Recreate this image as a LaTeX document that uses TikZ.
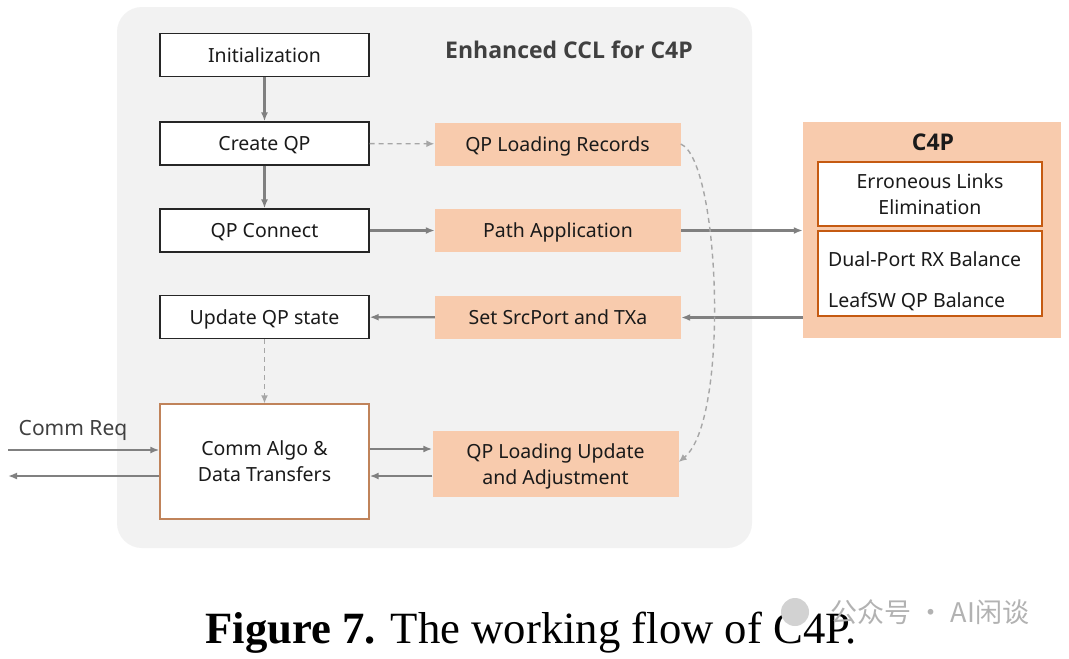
\documentclass[tikz,border=0pt]{standalone}
\usepackage{fontspec}
\setmainfont{Noto Sans}
\newfontfamily\titlefont{Open Sans}
\newfontfamily\capfont{Liberation Serif}
\newfontfamily\cjkfont{Noto Sans CJK SC}
\usetikzlibrary{arrows.meta}
\definecolor{panel}{HTML}{F2F2F2}
\definecolor{peach}{HTML}{F8CBAD}
\definecolor{rust}{HTML}{C55A11}
\definecolor{commedge}{HTML}{C0835A}
\definecolor{edge}{HTML}{808080}
\definecolor{dashc}{HTML}{A6A6A6}
\definecolor{txt}{HTML}{1A1A1A}
\begin{document}
\begin{tikzpicture}[x=1pt,y=-1pt,font=\fontsize{19.5}{26}\selectfont,
 tc/.style={text height=14pt, text depth=0pt},
 tctwo/.style={text height=40pt, text depth=0pt},
 wbox/.style={tc, draw=black!85, line width=1.3pt, fill=white, minimum width=209pt, minimum height=43pt, inner sep=0pt, text=txt, align=center},
 pbox/.style={tc, fill=peach, minimum width=246pt, minimum height=43pt, inner sep=0pt, text=txt, align=center},
 ibox/.style={tc, draw=rust, line width=1.3pt, fill=white, minimum width=224pt, inner sep=0pt, text=txt, align=center},
 ttl/.style={text height=16pt, text depth=0pt, font=\titlefont\bfseries\fontsize{23}{26}\selectfont},
 arr/.style={draw=edge, line width=2.2pt, -{Latex[length=9pt,width=7pt]}},
 darr/.style={draw=dashc, line width=1.4pt, dash pattern=on 5pt off 4pt, -{Latex[length=8pt,width=7pt]}},
]
\useasboundingbox (0,0) rectangle (1069,659);
\fill[white] (0,0) rectangle (1069,659);
\fill[panel, rounded corners=25pt] (117,7) rectangle (752,548);
\node[ttl, text=black!75] (title) at (569,50.5) {Enhanced CCL for C4P};

\node[wbox] (init) at (264.5,55) {Initialization};
\node[wbox] (create) at (264.5,143.5) {Create QP};
\node[wbox] (connect) at (264.5,230.5) {QP Connect};
\node[wbox] (update) at (264.5,317) {Update QP state};
\node[wbox, tctwo, draw=commedge, minimum height=115pt] (comm) at (264.5,461.5) {Comm Algo \&\\Data Transfers};

\node[pbox] (qplr) at (557.5,144) {QP Loading Records};
\node[pbox] (path) at (558,230.5) {Path Application};
\node[pbox] (setsrc) at (558,317.5) {Set SrcPort and TXa};
\node[pbox, tctwo, minimum height=66pt] (qplu) at (555.5,464) {QP Loading Update\\and Adjustment};

\node[fill=peach, minimum width=258pt, minimum height=216pt, inner sep=0pt] (c4p) at (932,230) {};
\node[ttl, text=txt] (c4ptitle) at (933,142) {C4P};
\node[ibox, tctwo, minimum height=64pt] (err) at (930,194) {Erroneous Links\\Elimination};
\node[ibox, minimum height=85pt] (bal) at (930,273.5) {};
\node[tc, anchor=west, text=txt, inner sep=0pt] (dual) at (828,259) {Dual-Port RX Balance};
\node[tc, anchor=west, text=txt, inner sep=0pt] (leaf) at (828,300) {LeafSW QP Balance};

\coordinate (reqin) at (8,450);
\coordinate (reqout) at (8,476);
\node[tc, text=black!75, font=\fontsize{21}{24}\selectfont] (req) at (73,428) {Comm Req};

\draw[arr] (init) -- (create);
\draw[arr] (create) -- (connect);
\draw[darr] (create) -- (qplr);
\draw[arr] (connect) -- (path);
\draw[arr] (path.east) -- (c4p.west |- path.east);
\draw[arr] (c4p.west |- setsrc.east) -- (setsrc.east);
\draw[arr] (setsrc) -- (update);
\draw[darr] (update) -- (comm);
\draw[arr] (comm.east |- 0,449) -- (qplu.west |- 0,449);
\draw[arr] (qplu.west |- 0,476) -- (comm.east |- 0,476);
\draw[arr] (reqin) -- (comm.west |- reqin);
\draw[arr] (comm.west |- reqout) -- (reqout);
\draw[darr] (qplr.east) .. controls (720,160) and (730,420) .. (qplu.east |- 0,462);

\node[anchor=base] (cap) at (531,643) {\capfont\fontsize{44.7}{48}\selectfont\textbf{Figure 7.} The working flow of C4P.};
\fill[gray!35] (795,612) circle (14pt);
\node[text=gray!60, font=\cjkfont\fontsize{27}{30}\selectfont] (wm) at (930,612) {公众号 · AI闲谈};
\end{tikzpicture}
\end{document}
